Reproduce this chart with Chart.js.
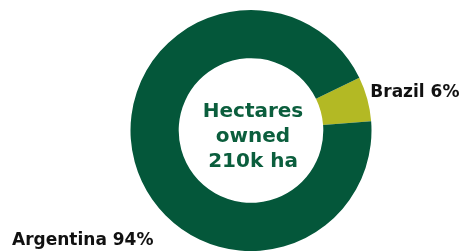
<!DOCTYPE html>
<html lang="en">
<head>
    <meta charset="UTF-8">
    <title>Hectares owned</title>
    <style>
        body {
            margin: 0;
            padding: 0;
            background-color: white;
        }
        canvas {
            display: block;
        }
    </style>
    <script src="https://cdn.jsdelivr.net/npm/chart.js"></script>
</head>
<body>
    <canvas id="hectaresChart" width="460" height="251"></canvas>

    <script>
        // Data
        const countries = ['Brazil', 'Argentina'];
        const shares = [6, 94];
        const sliceColors = ['#b3b924', '#04573a'];
        const centerLines = ['Hectares', 'owned', '210k ha'];

        const labelFont = 'bold 17px "DejaVu Sans", sans-serif';
        const centerFont = 'bold 20px "DejaVu Sans", sans-serif';

        // Draws the centre text and the outside labels
        const textPlugin = {
            id: 'textPlugin',
            afterDraw(chart) {
                const ctx = chart.ctx;
                const arcs = chart.getDatasetMeta(0).data;
                const cx = arcs[0].x, cy = arcs[0].y;

                ctx.save();
                ctx.fillStyle = '#0b5e3d';
                ctx.font = centerFont;
                ctx.textAlign = 'center';
                ctx.textBaseline = 'middle';
                centerLines.forEach((line, i) => {
                    ctx.fillText(line, cx + 2, cy - 19 + i * 25);
                });

                ctx.fillStyle = '#111111';
                ctx.font = labelFont;
                ctx.textBaseline = 'middle';

                // Brazil: right of its slice
                const b = arcs[0];
                const bMid = (b.startAngle + b.endAngle) / 2;
                ctx.textAlign = 'left';
                ctx.fillText(countries[0] + ' ' + shares[0] + '%',
                    cx + Math.cos(bMid) * b.outerRadius + 3,
                    cy + Math.sin(bMid) * b.outerRadius - 6);

                // Argentina: bottom left
                ctx.textAlign = 'left';
                ctx.fillText(countries[1] + ' ' + shares[1] + '%', 12, 241);
                ctx.restore();
            }
        };

        new Chart(document.getElementById('hectaresChart'), {
            type: 'doughnut',
            data: {
                labels: countries,
                datasets: [{
                    data: shares,
                    backgroundColor: sliceColors,
                    borderWidth: 0
                }]
            },
            options: {
                responsive: false,
                animation: false,
                cutout: '60%',
                rotation: 64,
                layout: {
                    padding: { top: 10, bottom: 0, left: 130, right: 88 }
                },
                plugins: {
                    legend: { display: false },
                    tooltip: { enabled: false }
                }
            },
            plugins: [textPlugin]
        });
    </script>
</body>
</html>
